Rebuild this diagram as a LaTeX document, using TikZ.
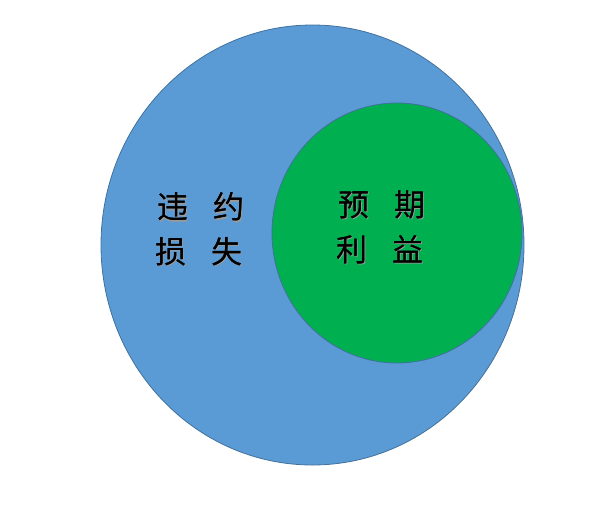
\documentclass[tikz,border=0pt]{standalone}
\usepackage{fontspec}
\newfontfamily\cjk{Noto Sans CJK SC}
\usepackage{xcolor}
\usetikzlibrary{positioning,calc,shapes.geometric}
\definecolor{lossblue}{HTML}{5B9BD5}
\definecolor{gainsgreen}{HTML}{00B050}
\definecolor{edgeblue}{HTML}{41719C}

\begin{document}
\begin{tikzpicture}[x=1pt,y=-1pt,
        area/.style={ellipse,draw=edgeblue,line width=0.8pt,inner sep=0pt},
        word/.style={font=\cjk\fontsize{31}{31}\selectfont,text=black,inner sep=0pt},
        wordshadow/.style={word,text=black!40}]
      \useasboundingbox (0,0) rectangle (611,515);
      \node (loss) at (312.5,245) [area,fill=lossblue,minimum width=423pt,minimum height=440pt] {};
      \node (gain) at (397,233) [area,fill=gainsgreen,minimum width=250pt,minimum height=260pt] {};
      % text with a light shadow
      \foreach \name/\x/\y/\txt in {lossa/201/207/违\hspace{25pt}约,lossb/199/252/损\hspace{25pt}失,
          gaina/382/205/预\hspace{25pt}期,gainb/380/250/利\hspace{25pt}益}{
        \node at (\x+1.2,\y+1.2) [wordshadow] {\txt};
        \node (\name) at (\x,\y) [word] {\txt};
        \node at (\x+0.4,\y) [word] {\txt};
      }
    \end{tikzpicture}
\end{document}
